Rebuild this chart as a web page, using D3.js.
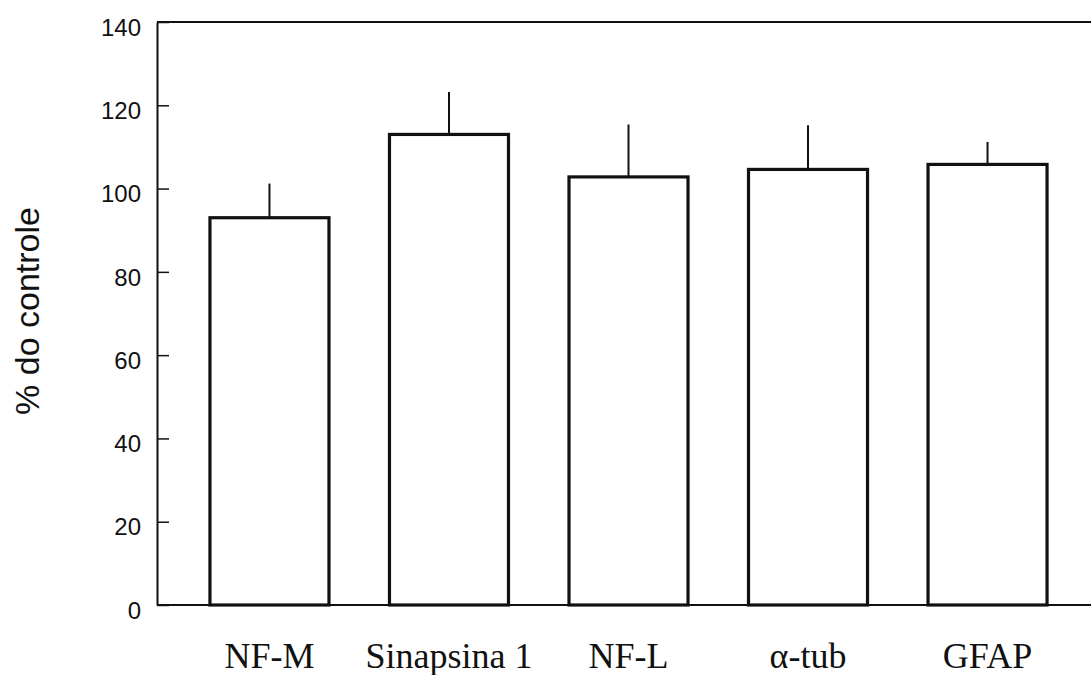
<!DOCTYPE html>
<html>
<head>
<meta charset="utf-8">
<script src="https://cdn.jsdelivr.net/npm/d3@7"></script>
<style>
  body { margin: 0; background: #fff; }
  svg { display: block; }
</style>
</head>
<body>
<div id="chart"></div>
<script>
// values
var categories = ['NF-M', 'Sinapsina 1', 'NF-L', '\u03b1-tub', 'GFAP'];
var means = [93.0, 113.0, 102.8, 104.6, 105.8];
var errors = [8.2, 10.2, 12.6, 10.6, 5.4];
var yTicks = [0, 20, 40, 60, 80, 100, 120, 140];

var W = 1091, H = 675;
var margin = {top: 22, right: -9, bottom: 70, left: 157},
    width = W - margin.left - margin.right,
    height = H - margin.top - margin.bottom;

var data = categories.map(function(c, i) {
  return {name: c, value: means[i], err: errors[i]};
});

var xScale = d3.scaleBand()
    .domain(categories)
    .range([0, width])
    .paddingInner(0.337)
    .paddingOuter(0.295);

var yScale = d3.scaleLinear()
    .domain([0, 140])
    .range([height, 0]);

var svg = d3.select('#chart').append('svg')
    .attr('width', W)
    .attr('height', H);

var g = svg.append('g')
    .attr('transform', 'translate(' + margin.left + ',' + margin.top + ')');

// frame: top and right lines
g.append('line')
    .attr('x1', 0).attr('x2', width)
    .attr('y1', 0).attr('y2', 0)
    .attr('stroke', '#111').attr('stroke-width', 2);
g.append('line')
    .attr('x1', width).attr('x2', width)
    .attr('y1', 0).attr('y2', height)
    .attr('stroke', '#111').attr('stroke-width', 2);

// y axis, ticks pointing in
var yAxis = d3.axisLeft(yScale)
    .tickValues(yTicks)
    .tickSizeInner(-12)
    .tickSizeOuter(0)
    .tickPadding(16);

var ya = g.append('g').attr('class', 'y axis').call(yAxis);
ya.attr('font-size', null);
ya.select('.domain').attr('stroke', '#111').attr('stroke-width', 2);
ya.selectAll('.tick line').attr('stroke', '#111').attr('stroke-width', 1.5);
ya.selectAll('.tick text')
    .attr('dy', '0.55em')
    .style('font-family', 'Liberation Sans, Arial, sans-serif')
    .style('font-size', '24px')
    .attr('fill', '#111');

// bottom line
g.append('line')
    .attr('x1', 0).attr('x2', width)
    .attr('y1', height).attr('y2', height)
    .attr('stroke', '#111').attr('stroke-width', 2);

// error bars (upper only)
g.selectAll('.err')
    .data(data)
  .enter().append('line')
    .attr('class', 'err')
    .attr('x1', function(d) { return xScale(d.name) + xScale.bandwidth() / 2; })
    .attr('x2', function(d) { return xScale(d.name) + xScale.bandwidth() / 2; })
    .attr('y1', function(d) { return yScale(d.value); })
    .attr('y2', function(d) { return yScale(d.value + d.err); })
    .attr('stroke', '#111')
    .attr('stroke-width', 2);

// bars
g.selectAll('.bar')
    .data(data)
  .enter().append('rect')
    .attr('class', 'bar')
    .attr('x', function(d) { return xScale(d.name); })
    .attr('y', function(d) { return yScale(d.value); })
    .attr('width', xScale.bandwidth())
    .attr('height', function(d) { return height - yScale(d.value); })
    .attr('fill', '#fff')
    .attr('stroke', '#111')
    .attr('stroke-width', 3.2);

// category labels
g.selectAll('.xlab')
    .data(data)
  .enter().append('text')
    .attr('class', 'xlab')
    .attr('x', function(d) { return xScale(d.name) + xScale.bandwidth() / 2; })
    .attr('y', height + 63)
    .attr('text-anchor', 'middle')
    .style('font-family', 'Liberation Serif, Times New Roman, serif')
    .style('font-size', '36px')
    .attr('fill', '#111')
    .text(function(d) { return d.name; });

// y axis title
svg.append('text')
    .attr('transform', 'translate(39,' + 311 + ') rotate(-90)')
    .attr('text-anchor', 'middle')
    .style('font-family', 'Liberation Sans, Arial, sans-serif')
    .style('font-size', '34px')
    .attr('fill', '#111')
    .text('% do controle');
</script>
</body>
</html>
